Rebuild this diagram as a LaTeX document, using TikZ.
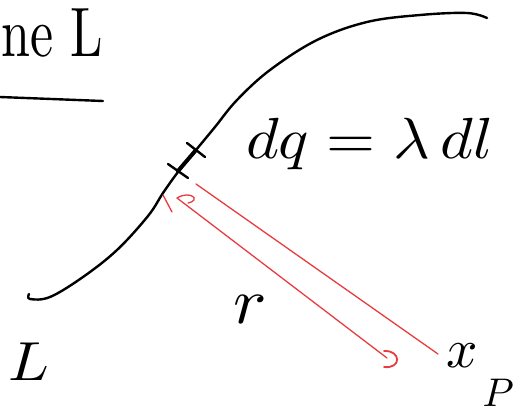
\documentclass[tikz,border=0pt]{standalone}
\usetikzlibrary{positioning}

\tikzstyle{pen} = [line width=2.4pt, line cap=round, line join=round]
\tikzstyle{redpen} = [line width=1.3pt, line cap=round, draw=penred]
\tikzstyle{hand} = [inner sep=0pt]
\definecolor{penred}{RGB}{232,60,64}

\begin{document}
\begin{tikzpicture}[x=1pt, y=-1pt]
\useasboundingbox (0,0) rectangle (521,415);
\clip (0,0) rectangle (521,415);
%titel
\node[hand, anchor=base west] (title) at (1,56) {\scalebox{5.2}[7]{ne L}};
\draw[pen] (0,97) -- (103,101);
%kromme L
\draw[pen] plot[smooth, tension=0.6] coordinates {(29,294) (30,299) (50,297) (83,277) (117,250) (148,216) (163,193) (178,172) (196,150) (215,127) (237,100) (270,70) (317,40) (367,22) (420,15) (467,13) (487,18)};
%begin element dl
\coordinate (lo) at (178,171);
\coordinate (hi) at (196,150);
\draw[pen] (168,164) -- (188,178);
\draw[pen] (187,143) -- (205,157);
\draw[pen, line width=4pt] (lo) -- (hi);
%end element dl
\node[hand, anchor=base west] (dq) at (246,158) {\scalebox{6.3}[5.8]{$dq = \lambda\, dl$}};
%begin vector r
\coordinate (elem) at (177,198);
\coordinate (tip) at (387,358);
\coordinate (P) at (462,356);
\draw[redpen] (elem) .. controls (190,190) and (202,200) .. (188,203);
\draw[redpen] (163,195) -- (172,212);
\draw[redpen] (elem) -- (tip);
\draw[redpen] (196,184) -- (438,354);
\draw[redpen, line width=1.8pt] (384,351) .. controls (401,350) and (402,369) .. (384,367);
%end vector r
\node[hand] (r) at (250,310) {\scalebox{7}[6.5]{$r$}};
\node[hand, anchor=base west] (L) at (8,380) {\scalebox{6}[5.5]{$L$}};
\node[hand] (x) at (P) {\scalebox{5.5}{$x$}};
\node[hand, anchor=base east] (Pt) at (514,406) {\scalebox{4}{$P$}};
\end{tikzpicture}
\end{document}
